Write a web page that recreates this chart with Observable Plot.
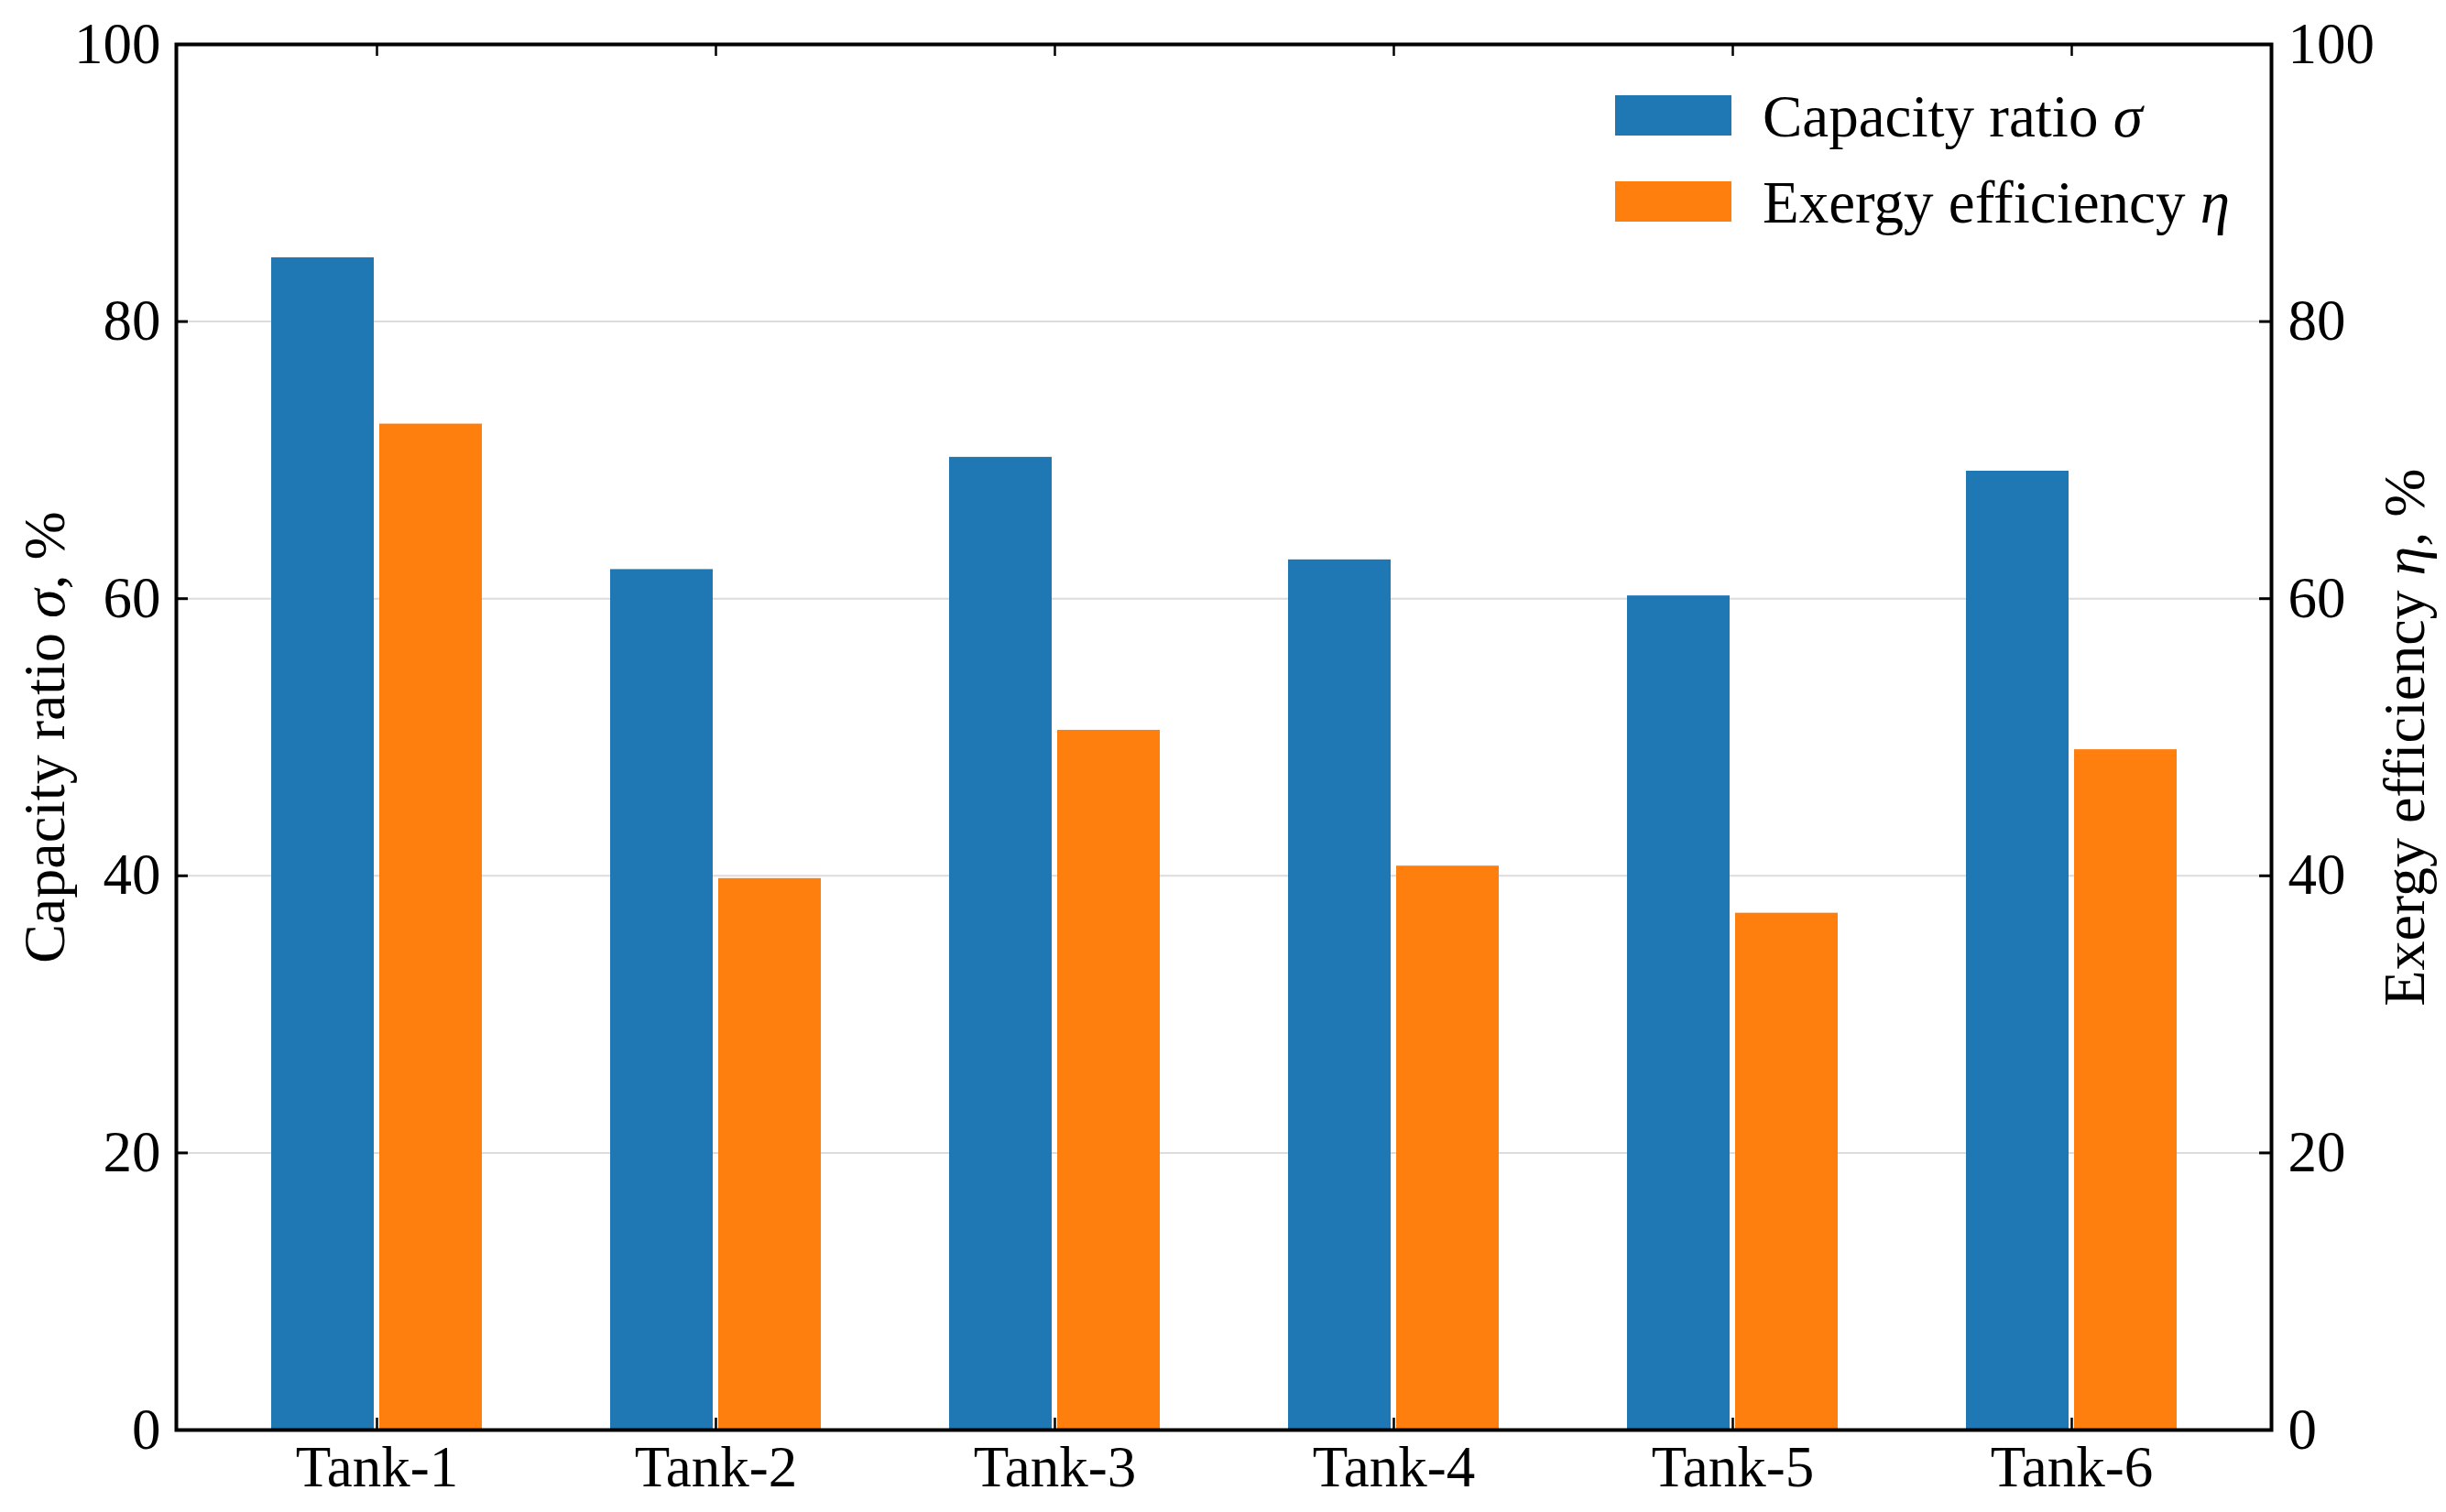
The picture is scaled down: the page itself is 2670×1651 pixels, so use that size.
<!DOCTYPE html>
<html>
<head>
<meta charset="utf-8">
<script src="https://cdn.jsdelivr.net/npm/d3@7"></script>
<script src="https://cdn.jsdelivr.net/npm/@observablehq/plot@0.6"></script>
<style>
  html, body { margin: 0; padding: 0; background: #fff; }
  #chart { position: relative; width: 2670px; height: 1651px; }
</style>
</head>
<body>
<div id="chart"></div>
<script>
// ---- data ----
const tanks = ["Tank-1", "Tank-2", "Tank-3", "Tank-4", "Tank-5", "Tank-6"];
const capacityRatio = [84.6, 62.1, 70.2, 62.8, 60.2, 69.2];
const exergyEfficiency = [72.6, 39.8, 50.5, 40.7, 37.3, 49.1];
const seriesNames = ["Capacity ratio σ", "Exergy efficiency η"];
const seriesColors = ["#1f77b4", "#ff7f0e"];
const yTicks = [0, 20, 40, 60, 80, 100];
const axisTitles = ["Capacity ratio σ, %", "Exergy efficiency η, %"];

// ---- layout ----
const W = 2670, H = 1651;
const mL = 192, mR = 191, mT = 48, mB = 90;
const innerW = W - mL - mR, innerH = H - mT - mB;
const tickLen = 13;
const font = "'Liberation Serif', 'Times New Roman', serif";
const fs = 63;
const step = 370, barW = 112, gap = 6;
const bandW = 2 * barW + gap;
const padIn = 1 - bandW / step;
const padOut = (innerW / step - tanks.length + padIn) / 2;

const rows = tanks.map((t, i) => ({tank: t, sigma: capacityRatio[i], eta: exergyEfficiency[i]}));

function italicizeGreek(textEl) {
  const s = textEl.textContent;
  if (!/[ση]/.test(s)) return;
  textEl.textContent = "";
  for (const part of s.split(/([ση])/)) {
    if (!part) continue;
    const t = document.createElementNS("http://www.w3.org/2000/svg", "tspan");
    t.textContent = part;
    if (/^[ση]$/.test(part)) t.setAttribute("font-style", "italic");
    textEl.appendChild(t);
  }
}

const plot = Plot.plot({
  width: W, height: H,
  marginLeft: mL, marginRight: mR, marginTop: mT, marginBottom: mB,
  style: {fontFamily: font, fontSize: fs + "px", background: "#fff", color: "#000"},
  x: {type: "band", domain: tanks, paddingInner: padIn, paddingOuter: padOut, label: null},
  y: {domain: [0, 100], label: null},
  marks: [
    Plot.ruleY(yTicks, {y: d => d, stroke: "#dcdcdc", strokeWidth: 2}),
    Plot.barY(rows, {x: "tank", y: "sigma", fill: seriesColors[0], insetRight: bandW - barW}),
    Plot.barY(rows, {x: "tank", y: "eta", fill: seriesColors[1], insetLeft: bandW - barW}),
    Plot.tickX(tanks, {x: d => d, stroke: "#000", strokeWidth: 2.5, insetTop: innerH - tickLen}),
    Plot.tickX(tanks, {x: d => d, stroke: "#000", strokeWidth: 2.5, insetBottom: innerH - tickLen}),
    Plot.tickY(yTicks, {y: d => d, stroke: "#000", strokeWidth: 3, insetRight: innerW - tickLen}),
    Plot.tickY(yTicks, {y: d => d, stroke: "#000", strokeWidth: 3, insetLeft: innerW - tickLen}),
    Plot.frame({stroke: "#000", strokeWidth: 4}),
    Plot.axisY({anchor: "left", ticks: yTicks, tickSize: 0, tickPadding: 17, label: null, fontSize: fs}),
    Plot.axisY({anchor: "right", ticks: yTicks, tickSize: 0, tickPadding: 18, label: null, fontSize: fs}),
    Plot.axisX({anchor: "bottom", tickSize: 0, tickPadding: 17, label: null, fontSize: fs}),
    Plot.text([axisTitles[0]], {text: d => d, frameAnchor: "left", textAnchor: "middle", lineAnchor: "middle", rotate: -90, dx: -143, fontSize: 64}),
    Plot.text([axisTitles[1]], {text: d => d, frameAnchor: "right", textAnchor: "middle", lineAnchor: "middle", rotate: -90, dx: 146, fontSize: 64})
  ]
});

d3.select(plot).selectAll("text").each(function() { italicizeGreek(this); });

// legend inside the frame (upper right)
const lg = d3.select(plot).append("g")
  .attr("font-family", font).attr("font-size", 65).attr("text-anchor", "start");
seriesNames.forEach((name, i) => {
  const y0 = 104 + i * 94;
  lg.append("rect").attr("x", 1763).attr("y", y0).attr("width", 127).attr("height", 44)
    .attr("fill", seriesColors[i]);
  const t = lg.append("text").attr("x", 1924).attr("y", y0 + 45)
    .attr("text-anchor", "start").attr("fill", "#000").text(name);
  italicizeGreek(t.node());
});

document.getElementById("chart").appendChild(plot);
</script>
</body>
</html>
